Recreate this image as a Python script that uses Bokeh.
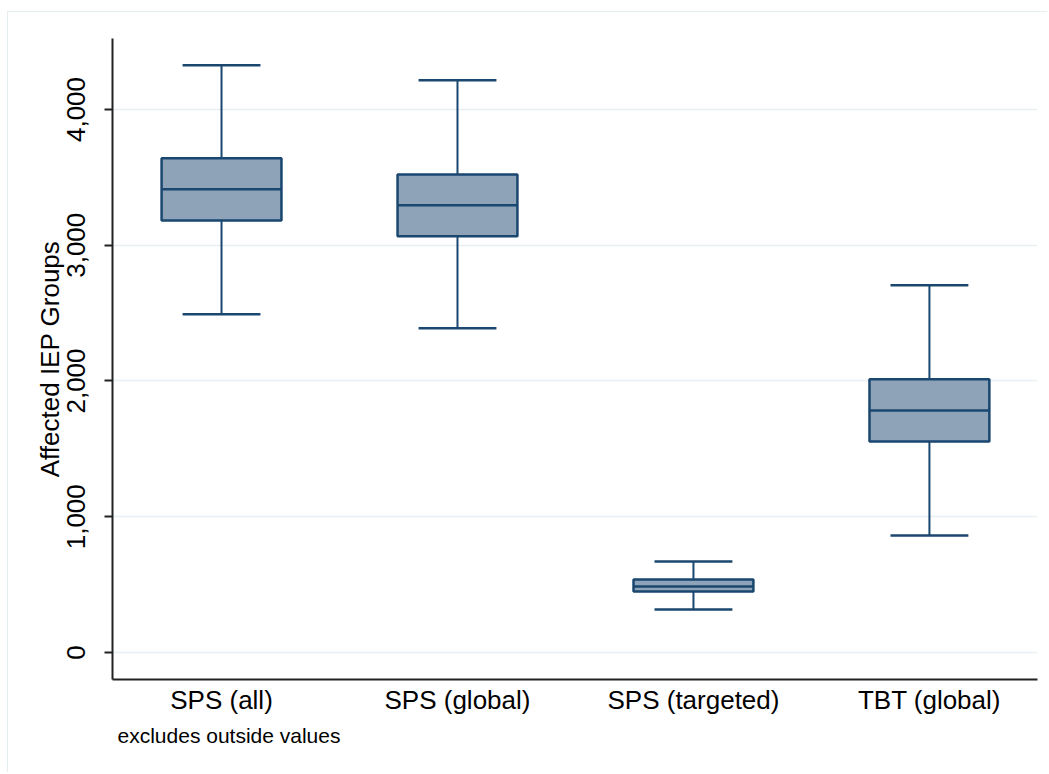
from bokeh.plotting import figure
from bokeh.models import Range1d, FixedTicker, Title, ColumnDataSource
from bokeh.embed import file_html
from bokeh.resources import INLINE

categories = ["SPS (all)", "SPS (global)", "SPS (targeted)", "TBT (global)"]
lower_whisker = [2491, 2388, 317, 862]
q1 = [3183, 3066, 450, 1555]
median = [3412, 3294, 486, 1783]
q3 = [3640, 3522, 538, 2012]
upper_whisker = [4326, 4215, 671, 2705]
y_ticks = [0, 1000, 2000, 3000, 4000]
y_tick_labels = ["0", "1,000", "2,000", "3,000", "4,000"]
note = "excludes outside values"

pos = list(range(1, len(categories) + 1))
box_w = 0.508
cap_w = 0.33

src = ColumnDataSource(dict(
    x=pos, lo=lower_whisker, q1=q1, med=median, q3=q3, hi=upper_whisker,
    xl=[p - box_w / 2 for p in pos], xr=[p + box_w / 2 for p in pos],
    cl=[p - cap_w / 2 for p in pos], cr=[p + cap_w / 2 for p in pos],
))

FONT = "Liberation Sans"
NAVY = "#1a476f"
FILL = "#8ea3b8"

p = figure(width=1040, height=761, output_backend="svg", toolbar_location=None,
           x_range=Range1d(0.538, 4.458), y_range=Range1d(-199, 4523),
           min_border_left=104, min_border_top=26, min_border_right=11, min_border_bottom=94,
           styles={"margin-left": "7px", "margin-top": "11px",
                   "border-top": "1px solid #e6edf0", "border-left": "1px solid #e6edf0"})
p.outline_line_color = None
p.background_fill_color = "white"
p.border_fill_color = "white"

# grid
p.xgrid.visible = False
p.ygrid.grid_line_color = "#e8eff2"
p.ygrid.grid_line_width = 1.5
p.ygrid.ticker = FixedTicker(ticks=y_ticks)

# whiskers
p.segment(x0="x", y0="q3", x1="x", y1="hi", source=src, line_color=NAVY, line_width=2)
p.segment(x0="x", y0="q1", x1="x", y1="lo", source=src, line_color=NAVY, line_width=2)
p.segment(x0="cl", y0="hi", x1="cr", y1="hi", source=src, line_color=NAVY, line_width=2.5)
p.segment(x0="cl", y0="lo", x1="cr", y1="lo", source=src, line_color=NAVY, line_width=2.5)
# boxes
p.quad(left="xl", right="xr", bottom="q1", top="q3", source=src,
       fill_color=FILL, line_color=NAVY, line_width=2.5)
p.segment(x0="xl", y0="med", x1="xr", y1="med", source=src, line_color=NAVY, line_width=2.5)

# y axis
ya = p.yaxis[0]
ya.ticker = FixedTicker(ticks=y_ticks)
ya.major_label_overrides = {t: l for t, l in zip(y_ticks, y_tick_labels)}
ya.major_label_orientation = "vertical"
ya.major_label_text_font = FONT
ya.major_label_text_font_size = "26px"
ya.major_label_text_color = "black"
ya.major_label_standoff = 19
ya.major_tick_out = 8
ya.major_tick_in = 0
ya.minor_tick_out = 0
ya.minor_tick_in = 0
ya.axis_line_color = "#222222"
ya.axis_line_width = 2
ya.major_tick_line_color = "#222222"
ya.major_tick_line_width = 2
ya.axis_label = "Affected IEP Groups"
ya.axis_label_text_font = FONT
ya.axis_label_text_font_size = "26px"
ya.axis_label_text_font_style = "normal"
ya.axis_label_text_color = "black"
ya.axis_label_standoff = 0

# x axis
xa = p.xaxis[0]
xa.ticker = FixedTicker(ticks=pos)
xa.major_label_overrides = {t: l for t, l in zip(pos, categories)}
xa.major_label_text_font = FONT
xa.major_label_text_font_size = "26px"
xa.major_label_text_color = "black"
xa.major_label_standoff = 5
xa.major_tick_out = 0
xa.major_tick_in = 0
xa.minor_tick_out = 0
xa.minor_tick_in = 0
xa.axis_line_color = "#222222"
xa.axis_line_width = 2

t = Title(text=note, align="left", offset=5, text_font=FONT, text_font_size="21px",
          text_font_style="normal", text_color="black", standoff=8)
p.add_layout(t, "below")

open("out.html", "w").write(file_html(p, INLINE))
